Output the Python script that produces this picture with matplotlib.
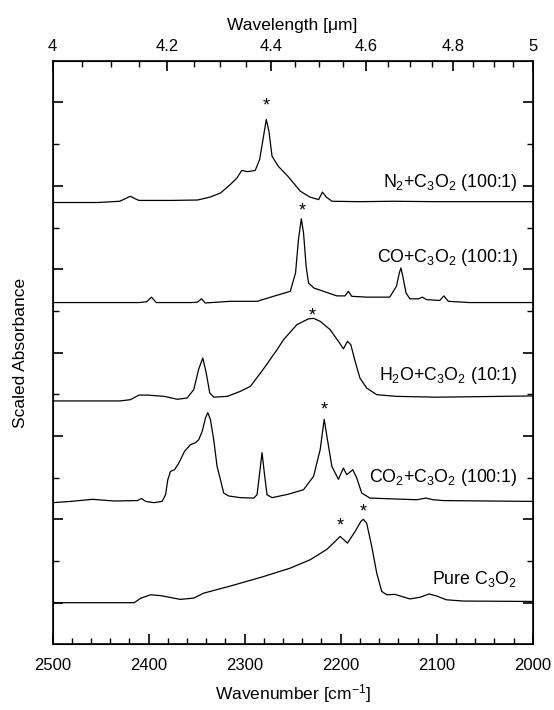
import numpy as np
import matplotlib
matplotlib.use("Agg")
import matplotlib.pyplot as plt
from matplotlib.ticker import FixedLocator, MultipleLocator, NullFormatter

plt.rcParams['font.family'] = ['Liberation Sans', 'DejaVu Sans']
plt.rcParams['mathtext.fontset'] = 'custom'
plt.rcParams['mathtext.rm'] = 'Liberation Sans'
plt.rcParams['mathtext.it'] = 'Liberation Sans:italic'
plt.rcParams['mathtext.default'] = 'regular'

# spectra (wavenumber in cm-1, stacked scaled absorbance)
n2_wn = [2500, 2453, 2430, 2419, 2414, 2410, 2377, 2349, 2336, 2325, 2315, 2308,
         2303, 2297, 2289, 2284.4, 2280.9, 2277.5, 2274.7, 2271.5, 2265, 2255,
         2242, 2232, 2223, 2219, 2215, 2209, 2180, 2145, 2100, 2050, 2000]
n2_abs = [10.60, 10.60, 10.63, 10.75, 10.69, 10.65, 10.65, 10.66, 10.73, 10.83, 11.03, 11.19,
          11.37, 11.34, 11.37, 11.63, 12.11, 12.59, 12.31, 11.71, 11.47, 11.23,
          10.87, 10.73, 10.67, 10.85, 10.73, 10.63, 10.62, 10.63, 10.62, 10.62, 10.62]

co_wn = [2500, 2410, 2402, 2397, 2392, 2355, 2349, 2345, 2341, 2315, 2287, 2270,
         2252.5, 2247, 2244, 2241, 2238.7, 2236, 2233.5, 2228, 2218, 2204, 2195.5,
         2192, 2188.5, 2173, 2149, 2142, 2139, 2137.3, 2135, 2132, 2128, 2119,
         2115, 2110.6, 2097, 2092.6, 2088, 2066, 2000]
co_abs = [8.20, 8.20, 8.22, 8.33, 8.20, 8.20, 8.21, 8.29, 8.19, 8.23, 8.23, 8.35,
          8.47, 8.91, 9.71, 10.21, 9.87, 9.07, 8.67, 8.55, 8.47, 8.36, 8.36,
          8.47, 8.35, 8.33, 8.33, 8.59, 8.91, 9.03, 8.79, 8.43, 8.29, 8.29,
          8.33, 8.27, 8.25, 8.36, 8.23, 8.20, 8.20]

h2o_wn = [2500, 2430, 2419, 2410, 2401, 2384, 2370, 2360, 2353, 2348, 2343.6, 2340,
          2336.3, 2332, 2318, 2304.5, 2294, 2280, 2273, 2266, 2259.5, 2245.6, 2233.5,
          2228, 2221.4, 2211, 2202.4, 2197.2, 2193, 2189.5, 2185, 2180, 2173, 2162.5,
          2142, 2100, 2000]
h2o_abs = [5.84, 5.84, 5.87, 5.98, 5.98, 5.95, 5.88, 5.91, 6.11, 6.59, 6.87, 6.51,
           6.03, 5.93, 5.95, 6.07, 6.19, 6.62, 6.85, 7.08, 7.31, 7.67, 7.81,
           7.82, 7.75, 7.55, 7.27, 7.09, 7.27, 7.19, 6.79, 6.39, 6.15, 5.99,
           5.95, 5.93, 5.96]

co2_wn = [2500, 2481, 2458.5, 2436, 2411.7, 2407.3, 2403, 2394.5, 2386, 2382.3, 2380,
          2377.2, 2373, 2368.5, 2362.6, 2356.4, 2351.2, 2347.8, 2344.2, 2340.8, 2338.4,
          2335.6, 2332.2, 2328.7, 2325.2, 2321.8, 2316.6, 2304.5, 2290.6, 2287.1, 2284.4,
          2281.9, 2279.5, 2276.7, 2271.5, 2255, 2238.7, 2228.3, 2221.4, 2217.2, 2213.8,
          2209.2, 2202.4, 2197.2, 2193.7, 2187.4, 2183.3, 2178.1, 2169.5, 2121, 2111.3,
          2103.7, 2093.3, 2000]
co2_abs = [3.40, 3.43, 3.48, 3.44, 3.45, 3.50, 3.43, 3.40, 3.43, 3.59, 3.95,
           4.15, 4.19, 4.35, 4.63, 4.79, 4.84, 4.91, 5.11, 5.43, 5.56,
           5.39, 4.91, 4.27, 3.95, 3.63, 3.56, 3.52, 3.51, 3.59, 4.11,
           4.60, 4.11, 3.59, 3.52, 3.60, 3.71, 4.03, 4.67, 5.40, 4.91,
           4.27, 3.96, 4.23, 4.07, 4.19, 3.99, 3.63, 3.51, 3.47, 3.51,
           3.47, 3.45, 3.43]

pure_wn = [2500, 2415, 2408, 2398, 2387.5, 2367, 2353, 2342.6, 2314.8, 2280, 2252.5,
           2231.8, 2214.4, 2205.8, 2200.6, 2193, 2185, 2179, 2176.4, 2173, 2167.7,
           2162.5, 2157.3, 2152, 2143.5, 2128, 2117.5, 2108, 2100, 2090, 2072.6, 2000]
pure_abs = [1.00, 1.00, 1.11, 1.19, 1.17, 1.08, 1.11, 1.23, 1.40, 1.63, 1.83,
            2.03, 2.28, 2.47, 2.59, 2.43, 2.71, 2.95, 3.00, 2.91, 2.35,
            1.71, 1.27, 1.19, 1.20, 1.09, 1.13, 1.21, 1.16, 1.07, 1.04, 1.03]

labels = ['N$_2$+C$_3$O$_2$ (100:1)', 'CO+C$_3$O$_2$ (100:1)', 'H$_2$O+C$_3$O$_2$ (10:1)',
          'CO$_2$+C$_3$O$_2$ (100:1)', 'Pure C$_3$O$_2$']
label_y = [11.07, 9.27, 6.44, 4.01, 1.56]

# band positions marked with an asterisk
star_wn = [2277.5, 2240.5, 2230, 2217.2, 2200.6, 2176.4]
star_y = [13.03, 10.51, 8.01, 5.75, 2.95, 3.29]

wavelength_major = [4.0, 4.2, 4.4, 4.6, 4.8, 5.0]
wavelength_labels = ['4', '4.2', '4.4', '4.6', '4.8', '5']
wavelength_minor = np.arange(4.0, 5.001, 0.05)

fig = plt.figure(figsize=(5.54, 7.10), dpi=100)
ax = fig.add_axes([0.0948, 0.0924, 0.867, 0.822])

for wn, ab in [(n2_wn, n2_abs), (co_wn, co_abs), (h2o_wn, h2o_abs),
               (co2_wn, co2_abs), (pure_wn, pure_abs)]:
    ax.plot(wn, ab, color='black', lw=0.9)

for txt, y in zip(labels, label_y):
    ax.text(2016, y, txt, ha='right', va='center', fontsize=12.8)

for x, y in zip(star_wn, star_y):
    ax.text(x, y - 0.12, '*', ha='center', va='center', fontsize=13)

ax.set_xlim(2500, 2000)
ax.set_ylim(0, 14)
ax.xaxis.set_major_locator(MultipleLocator(100))
ax.xaxis.set_minor_locator(MultipleLocator(20))
ax.yaxis.set_major_locator(FixedLocator([1, 3, 5, 7, 9, 11, 13]))
ax.yaxis.set_minor_locator(FixedLocator([2, 4, 6, 8, 10, 12]))
ax.yaxis.set_major_formatter(NullFormatter())
ax.tick_params(axis='both', which='major', direction='in', length=7, width=1.2,
               labelsize=12)
ax.tick_params(axis='both', which='minor', direction='in', length=4, width=1.0)
ax.tick_params(axis='y', which='both', left=True, right=True)
ax.tick_params(axis='x', which='both', top=False, pad=10)
for s in ax.spines.values():
    s.set_linewidth(1.2)

ax.set_xlabel('Wavenumber [cm$^{-1}$]', fontsize=12.5, labelpad=6)
ax.set_ylabel('Scaled Absorbance', fontsize=12.5, labelpad=14)

# top axis in wavelength (micron)
ax2 = ax.twiny()
ax2.set_xlim(ax.get_xlim())
ax2.set_xticks([1e4 / l for l in wavelength_major])
ax2.set_xticklabels(wavelength_labels)
ax2.xaxis.set_minor_locator(FixedLocator([1e4 / l for l in wavelength_minor]))
ax2.tick_params(axis='x', which='major', direction='in', length=7, width=1.2,
                labelsize=12, pad=5)
ax2.tick_params(axis='x', which='minor', direction='in', length=4, width=1.0)
ax2.set_xlabel('Wavelength [\u03bcm]', fontsize=12.5, labelpad=6)

fig.savefig('out.png', dpi=100)
